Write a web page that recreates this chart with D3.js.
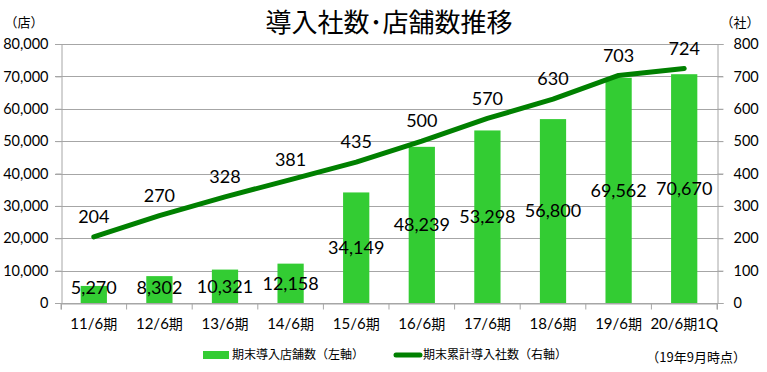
<!DOCTYPE html>
<html>
<head>
<meta charset="utf-8">
<script src="https://cdn.jsdelivr.net/npm/d3@7"></script>
<style>
  body { margin: 0; background: #fff; }
  svg { display: block; }
  .num { font-family: Lato, "Open Sans", sans-serif; }
  .jp { font-family: "Noto Sans CJK JP", sans-serif; }
</style>
</head>
<body>
<div id="chart"></div>
<script>
// data
const categories = ["11/6期", "12/6期", "13/6期", "14/6期", "15/6期", "16/6期", "17/6期", "18/6期", "19/6期", "20/6期1Q"];
const stores = [5270, 8302, 10321, 12158, 34149, 48239, 53298, 56800, 69562, 70670];
const companies = [204, 270, 328, 381, 435, 500, 570, 630, 703, 724];
const leftTicks = [0, 10000, 20000, 30000, 40000, 50000, 60000, 70000, 80000];
const rightTicks = [0, 100, 200, 300, 400, 500, 600, 700, 800];

const width = 767, height = 372;
const margin = {top: 44, right: 50, bottom: 69, left: 61};

const svg = d3.select("#chart").append("svg")
  .attr("width", width)
  .attr("height", height);

const x = d3.scaleBand()
  .domain(categories)
  .range([margin.left, width - margin.right])
  .paddingInner(0.6)
  .paddingOuter(0.3);

const xBand = d3.scaleBand()
  .domain(categories)
  .range([margin.left, width - margin.right]);

const yL = d3.scaleLinear().domain([0, 80000]).range([height - margin.bottom, margin.top]);
const yR = d3.scaleLinear().domain([0, 800]).range([height - margin.bottom, margin.top]);

const gridColor = "#a6a6a6";

// gridlines
svg.append("g")
  .selectAll("line")
  .data(leftTicks)
  .join("line")
  .attr("x1", margin.left - 6)
  .attr("x2", width - margin.right + 6)
  .attr("y1", d => Math.round(yL(d)) + 0.5)
  .attr("y2", d => Math.round(yL(d)) + 0.5)
  .attr("stroke", gridColor)
  .attr("stroke-width", 1);

// axes
const fmt = d3.format(",");
const leftAxis = svg.append("g")
  .attr("transform", `translate(${margin.left + 0.5},0)`)
  .call(d3.axisLeft(yL).tickValues(leftTicks).tickFormat(fmt).tickSize(6).tickPadding(7));
const rightAxis = svg.append("g")
  .attr("transform", `translate(${width - margin.right + 0.5},0)`)
  .call(d3.axisRight(yR).tickValues(rightTicks).tickSize(6).tickPadding(10));
const bottomAxis = svg.append("g")
  .attr("transform", `translate(0,${height - margin.bottom + 0.5})`)
  .call(d3.axisBottom(xBand).tickSize(6).tickPadding(9));

[leftAxis, rightAxis, bottomAxis].forEach(g => {
  g.select(".domain").attr("stroke", gridColor);
  g.selectAll(".tick line").attr("stroke", gridColor);
  g.selectAll("text").attr("fill", "#000").style("font-size", "14.5px");
});
leftAxis.selectAll("text").attr("class", "num");
rightAxis.selectAll("text").attr("class", "num");
// bottom ticks on band edges
bottomAxis.selectAll(".tick line").attr("x1", -xBand.bandwidth() / 2).attr("x2", -xBand.bandwidth() / 2);
bottomAxis.append("line")
  .attr("x1", width - margin.right).attr("x2", width - margin.right)
  .attr("y1", 0).attr("y2", 6).attr("stroke", gridColor);
bottomAxis.selectAll("text").attr("class", "num").style("font-size", "15px");
bottomAxis.selectAll(".tick text").each(function(d) {
  const t = d3.select(this);
  t.text(null);
  const m = d.match(/^(\d+\/\d+)(期)(.*)$/);
  t.append("tspan").attr("class", "num").text(m[1]);
  t.append("tspan").attr("class", "jp").style("font-size", "14px").text(m[2]);
  if (m[3]) t.append("tspan").attr("class", "num").text(m[3]);
});

// bars
svg.append("g")
  .selectAll("rect")
  .data(stores)
  .join("rect")
  .attr("x", (d, i) => x(categories[i]))
  .attr("width", x.bandwidth())
  .attr("y", d => yL(d))
  .attr("height", d => yL(0) - yL(d))
  .attr("fill", "#33cc33");

// line
const line = d3.line()
  .x((d, i) => xBand(categories[i]) + xBand.bandwidth() / 2)
  .y(d => yR(d));
svg.append("path")
  .datum(companies)
  .attr("d", line)
  .attr("fill", "none")
  .attr("stroke", "#008000")
  .attr("stroke-width", 5)
  .attr("stroke-linecap", "round")
  .attr("stroke-linejoin", "round");

// bar labels
svg.append("g")
  .selectAll("text")
  .data(stores)
  .join("text")
  .attr("class", "num")
  .attr("x", (d, i) => xBand(categories[i]) + xBand.bandwidth() / 2)
  .attr("y", d => Math.min((yL(d) + yL(0)) / 2, yL(0) - 15))
  .attr("dy", "0.35em")
  .attr("text-anchor", "middle")
  .style("font-size", "18px")
  .attr("fill", "#000")
  .text(d => fmt(d));

// line labels
svg.append("g")
  .selectAll("text")
  .data(companies)
  .join("text")
  .attr("class", "num")
  .attr("x", (d, i) => xBand(categories[i]) + xBand.bandwidth() / 2)
  .attr("y", d => yR(d) - 20)
  .attr("dy", "0.35em")
  .attr("text-anchor", "middle")
  .style("font-size", "18px")
  .attr("fill", "#000")
  .text(d => d);

// title
svg.append("text")
  .attr("class", "jp")
  .attr("x", 389)
  .attr("y", 23)
  .attr("dy", "0.35em")
  .attr("text-anchor", "middle")
  .style("font-size", "26px")
  .style("font-weight", "400")
  .text("導入社数･店舗数推移");

// unit labels
svg.append("text").attr("class", "jp")
  .attr("x", 24).attr("y", 22).attr("dy", "0.35em")
  .attr("text-anchor", "middle").style("font-size", "13px")
  .text("（店）");
svg.append("text").attr("class", "jp")
  .attr("x", 740).attr("y", 22).attr("dy", "0.35em")
  .attr("text-anchor", "middle").style("font-size", "13px")
  .text("（社）");

// legend
const leg = svg.append("g").attr("class", "jp").style("font-size", "12px");
leg.append("rect").attr("x", 203).attr("y", 351).attr("width", 26).attr("height", 8).attr("fill", "#33cc33");
leg.append("text").attr("x", 232).attr("y", 355).attr("dy", "0.35em").text("期末導入店舗数（左軸）");
leg.append("line").attr("x1", 396).attr("x2", 420).attr("y1", 355).attr("y2", 355)
  .attr("stroke", "#008000").attr("stroke-width", 5).attr("stroke-linecap", "round");
leg.append("text").attr("x", 423).attr("y", 355).attr("dy", "0.35em").text("期末累計導入社数（右軸）");
leg.append("text").attr("x", 746).attr("y", 357).attr("dy", "0.35em").attr("text-anchor", "end")
  .style("font-size", "13px").text("（19年9月時点）");
</script>
</body>
</html>
